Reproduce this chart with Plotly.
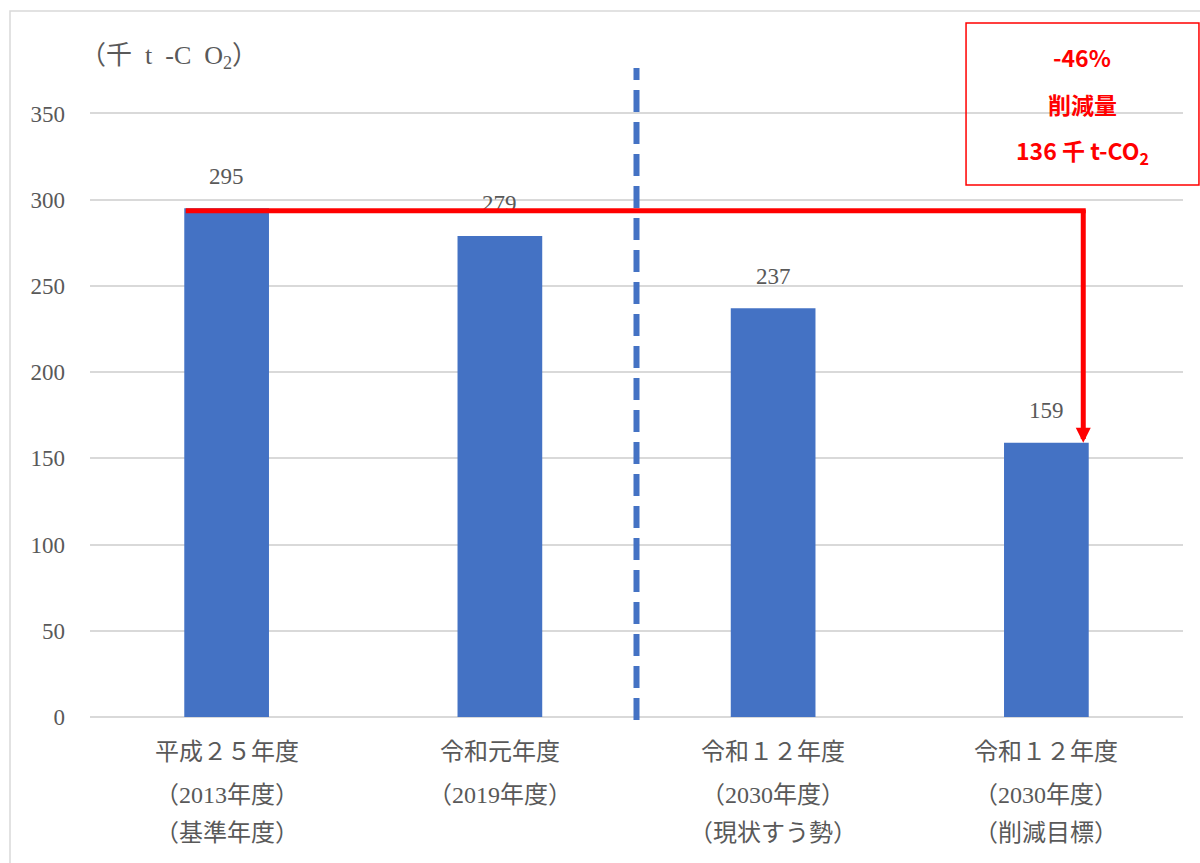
import plotly.graph_objects as go

# Emission data (thousand t-CO2)
categories = ["H25", "R1", "R12_trend", "R12_target"]
values = [295, 279, 237, 159]
category_lines = [
    ["平成２５年度", "（2013年度）", "（基準年度）"],
    ["令和元年度", "（2019年度）", ""],
    ["令和１２年度", "（2030年度）", "（現状すう勢）"],
    ["令和１２年度", "（2030年度）", "（削減目標）"],
]
y_ticks = [0, 50, 100, 150, 200, 250, 300, 350]
unit_label = "（千\u2002t\u2002-C\u2002O<sub>2</sub>）"
box_lines = ["-46%", "削減量", "136 千 t-CO<sub>2</sub>"]
base_value = values[0]
target_value = values[-1]

GRAY = "#595959"
BLUE = "#4472C4"
RED = "#FF0000"
SERIF = "Liberation Serif, Noto Sans CJK JP, serif"
SANS = "Noto Sans CJK JP, sans-serif"

fig = go.Figure()
fig.add_trace(go.Bar(
    x=categories, y=values, width=0.31,
    marker=dict(color=BLUE, line=dict(width=0)),
    hoverinfo="skip",
))

annotations = []

# value labels above bars
for c, v in zip(categories, values):
    annotations.append(dict(
        x=c, y=v, xref="x", yref="y", text=str(v), showarrow=False,
        yanchor="middle", yshift=32, font=dict(family=SERIF, size=23, color=GRAY),
    ))

# multi-line category labels under the axis
line_offsets = [-35, -78, -116]
for c, lines in zip(categories, category_lines):
    for txt, off in zip(lines, line_offsets):
        if not txt:
            continue
        annotations.append(dict(
            x=c, y=0, xref="x", yref="paper", text=txt, showarrow=False,
            yanchor="middle", yshift=off, font=dict(family=SERIF, size=24, color=GRAY),
        ))

# unit label
annotations.append(dict(
    x=-0.011, y=1.0046, xref="paper", yref="paper", xanchor="left", yanchor="middle",
    text=unit_label, showarrow=False,
    font=dict(family=SERIF, size=26, color=GRAY),
))

# red reduction line: horizontal from base bar to target, then arrow down
line_x0 = -0.155
line_x1 = 3.135
line_y = base_value - 1.4
annotations.append(dict(
    x=line_x1 + 0.009, y=line_y, ax=line_x0, ay=line_y, xref="x", yref="y",
    axref="x", ayref="y", text="", showarrow=True, arrowhead=0,
    arrowwidth=5, arrowcolor=RED, standoff=0, startstandoff=0,
))
annotations.append(dict(
    x=line_x1, y=target_value, ax=line_x1, ay=line_y + 1.4, xref="x", yref="y",
    axref="x", ayref="y", text="", showarrow=True, arrowhead=2, arrowsize=0.6,
    arrowwidth=5, arrowcolor=RED, standoff=0, startstandoff=0,
))

# reduction box text
for txt, yy in zip(box_lines, [1.0046, 0.933, 0.860]):
    annotations.append(dict(
        x=0.908, y=yy, xref="paper", yref="paper", text=f"<b>{txt}</b>",
        showarrow=False, xanchor="center", yanchor="middle",
        font=dict(family=SANS, size=23, color=RED),
    ))

shapes = [
    # outer chart frame
    dict(type="rect", xref="paper", yref="paper", x0=-0.0732, x1=1.2, y0=-0.3, y1=1.0746,
         line=dict(color="#d9d9d9", width=1.5), fillcolor="rgba(0,0,0,0)", layer="below"),
    # divider between actual and projected years
    dict(type="line", xref="x", yref="paper", x0=1.5, x1=1.5, y0=-0.0046, y1=0.9878,
         line=dict(color=BLUE, width=6, dash="22px,10px"), layer="above"),
    # reduction summary box
    dict(type="rect", xref="paper", yref="paper", x0=0.8015, x1=1.0146, y0=0.8097, y1=1.0563,
         line=dict(color=RED, width=1.5), fillcolor="rgba(0,0,0,0)", layer="above"),
]

fig.update_layout(
    width=1200, height=863,
    margin=dict(l=90, r=17, t=60, b=146, autoexpand=False),
    paper_bgcolor="white", plot_bgcolor="white",
    showlegend=False,
    annotations=annotations,
    shapes=shapes,
    xaxis=dict(showticklabels=False, showgrid=False, zeroline=False, showline=False,
               ticks="", range=[-0.5, 3.5]),
    yaxis=dict(range=[0, 381], tickvals=y_ticks, showgrid=True, gridcolor="#d9d9d9",
               gridwidth=1.5, zeroline=True, zerolinecolor="#d9d9d9", zerolinewidth=1.5,
               showline=False, ticks="", ticklabelstandoff=24,
               tickfont=dict(family=SERIF, size=23, color=GRAY)),
)

fig.write_html("out.html")
